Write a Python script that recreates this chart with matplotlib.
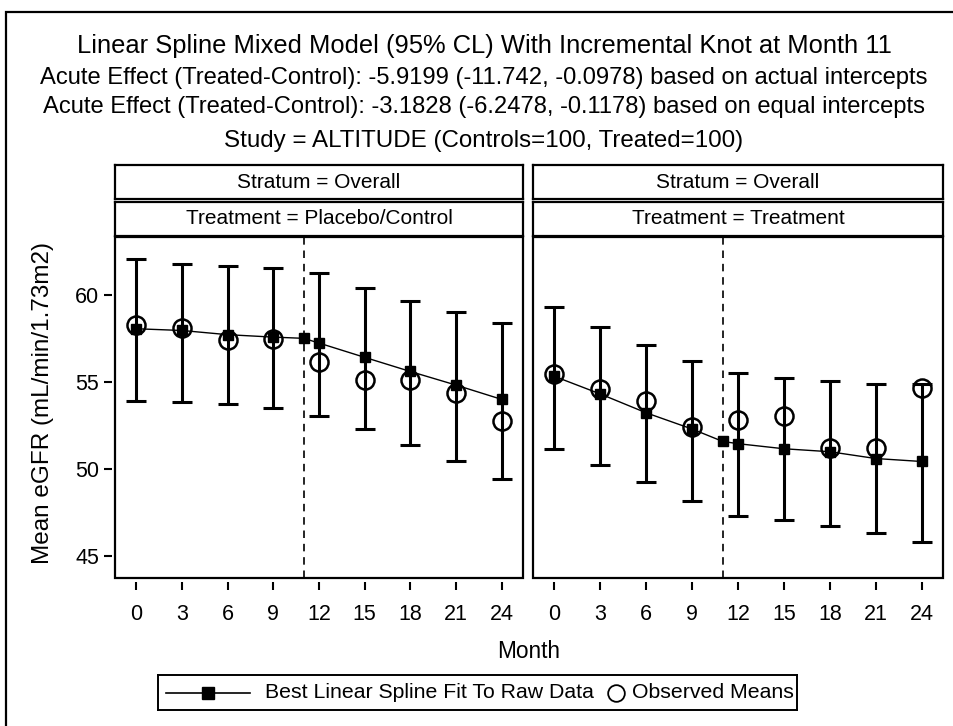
import matplotlib
matplotlib.use("Agg")
import matplotlib.pyplot as plt
from matplotlib.patches import Rectangle

# ---- data -------------------------------------------------------------
months_obs = [0, 3, 6, 9, 12, 15, 18, 21, 24]
months_fit = [0, 3, 6, 9, 11, 12, 15, 18, 21, 24]
knot_month = 11

ctrl_obs = [58.24, 58.07, 57.42, 57.46, 56.14, 55.14, 55.13, 54.36, 52.78]
ctrl_fit = [58.05, 57.95, 57.71, 57.57, 57.50, 57.23, 56.41, 55.60, 54.82, 54.00]
ctrl_lo = [53.90, 53.85, 53.75, 53.50, 53.06, 52.30, 51.38, 50.48, 49.45]
ctrl_hi = [62.05, 61.76, 61.62, 61.51, 61.22, 60.36, 59.64, 59.03, 58.38]

trt_obs = [55.45, 54.61, 53.92, 52.39, 52.80, 53.06, 51.21, 51.21, 54.67]
trt_fit = [55.32, 54.31, 53.23, 52.30, 51.59, 51.46, 51.17, 51.00, 50.61, 50.44]
trt_lo = [51.15, 50.23, 49.26, 48.17, 47.33, 47.08, 46.75, 46.33, 45.82]
trt_hi = [59.29, 58.13, 57.11, 56.19, 55.49, 55.22, 55.03, 54.91, 54.88]

panel_labels = ["Treatment = Placebo/Control", "Treatment = Treatment"]
stratum_label = "Stratum = Overall"
x_ticks = [0, 3, 6, 9, 12, 15, 18, 21, 24]
y_ticks = [45, 50, 55, 60]
legend_labels = ["Best Linear Spline Fit To Raw Data", "Observed Means"]

title_lines = [
    "Linear Spline Mixed Model (95% CL) With Incremental Knot at Month 11",
    "Acute Effect (Treated-Control): -5.9199 (-11.742, -0.0978) based on actual intercepts",
    "Acute Effect (Treated-Control): -3.1828 (-6.2478, -0.1178) based on equal intercepts",
    "Study = ALTITUDE (Controls=100, Treated=100)",
]

# ---- figure layout (pixel based) ---------------------------------------
W, H = 954, 726
plt.rcParams["font.family"] = ["Liberation Sans", "DejaVu Sans"]
fig = plt.figure(figsize=(W / 100, H / 100), dpi=100)


def fbox(x0, y0, x1, y1):
    """Figure-fraction rectangle from pixel corners (top-left origin)."""
    return [x0 / W, 1 - y1 / H, (x1 - x0) / W, (y1 - y0) / H]


# outer border
fig.add_artist(Rectangle((6 / W, -0.05), 1.2, 1 - 12 / H + 0.05,
                         transform=fig.transFigure, fill=False,
                         edgecolor="black", linewidth=1.6))

# titles
title_baselines = [53, 84, 112.5, 147]
title_sizes = [18.4, 17.1, 17.1, 17.4]
for txt, yb, fs in zip(title_lines, title_baselines, title_sizes):
    fig.text(484 / W, 1 - yb / H, txt, ha="center", va="baseline",
             fontsize=fs)

panels = [
    (115, 523, ctrl_obs, ctrl_fit, ctrl_lo, ctrl_hi, panel_labels[0]),
    (533, 943, trt_obs, trt_fit, trt_lo, trt_hi, panel_labels[1]),
]

y_top, y_bot = 237, 578

for i, (x0, x1, obs, fit, lo, hi, plabel) in enumerate(panels):
    ax = fig.add_axes(fbox(x0, y_top, x1, y_bot))
    ax.set_xlim(-1.4, 25.4)
    ax.set_ylim(43.76, 63.31)

    for sp in ax.spines.values():
        sp.set_visible(False)
    ax.spines["bottom"].set_position(("outward", 3))
    ax.spines["left"].set_position(("outward", 2))
    ax.add_patch(Rectangle((0, 0), 1, 1, transform=ax.transAxes, fill=False,
                           edgecolor="black", linewidth=1.6, clip_on=False,
                           zorder=10))

    # confidence limits
    mid = [(a + b) / 2 for a, b in zip(lo, hi)]
    half = [(b - a) / 2 for a, b in zip(lo, hi)]
    ax.errorbar(months_obs, mid, yerr=half, fmt="none", ecolor="black",
                elinewidth=2.2, capsize=7.5, capthick=2.2, zorder=2)

    # knot reference line
    ax.axvline(knot_month, color="black", linewidth=1.2,
               linestyle=(0, (4.5, 3.5)), zorder=1)

    # spline fit
    ax.plot(months_fit, fit, color="black", linewidth=1.0, marker="s",
            markersize=6.8, markerfacecolor="black", zorder=3)

    # observed means
    ax.plot(months_obs, obs, linestyle="none", marker="o", markersize=13,
            markerfacecolor="none", markeredgecolor="black",
            markeredgewidth=1.8, zorder=4)

    ax.set_xticks(x_ticks)
    ax.set_xticklabels([str(t) for t in x_ticks])
    ax.tick_params(axis="x", direction="out", length=6, width=1.5,
                   labelsize=15.5, pad=9.5)
    ax.set_yticks(y_ticks)
    if i == 0:
        ax.tick_params(axis="y", direction="out", length=6, width=1.5,
                       labelsize=15.5, pad=3.5)
        ax.set_ylabel("Mean eGFR (mL/min/1.73m2)", fontsize=17.5)
        ax.yaxis.set_label_coords(43 / W, 1 - 403 / H,
                                  transform=fig.transFigure)
        ax.yaxis.label.set_va("center")
    else:
        ax.tick_params(axis="y", left=False, labelleft=False)

    # strip headers
    for (sy0, sy1, stxt) in [(165, 199, stratum_label), (202, 236, plabel)]:
        sax = fig.add_axes(fbox(x0, sy0, x1, sy1))
        sax.set_xticks([])
        sax.set_yticks([])
        for sp in sax.spines.values():
            sp.set_linewidth(1.6)
        sax.text(0.5, 0.5, stxt, ha="center", va="center", fontsize=15,
                 transform=sax.transAxes)

fig.text(529 / W, 1 - 651 / H, "Month", ha="center", va="center",
         fontsize=16.3)

# legend box, laid out in pixel units
lx0, lx1, ly0, ly1 = 158, 797, 675, 710
lax = fig.add_axes(fbox(lx0, ly0, lx1, ly1))
lax.set_xlim(lx0, lx1)
lax.set_ylim(ly1, ly0)
lax.set_xticks([])
lax.set_yticks([])
for sp in lax.spines.values():
    sp.set_linewidth(1.4)
ym = (ly0 + ly1) / 2
lax.plot([166, 250], [ym, ym], color="black", linewidth=1.2)
lax.plot([208], [ym], marker="s", markersize=9, color="black")
lax.text(265, ym, legend_labels[0], ha="left", va="center", fontsize=15.3)
lax.plot([616], [ym], marker="o", markersize=12, markerfacecolor="none",
         markeredgecolor="black", markeredgewidth=1.3)
lax.text(632, ym, legend_labels[1], ha="left", va="center", fontsize=15.3)

fig.savefig("out.png", dpi=100)
